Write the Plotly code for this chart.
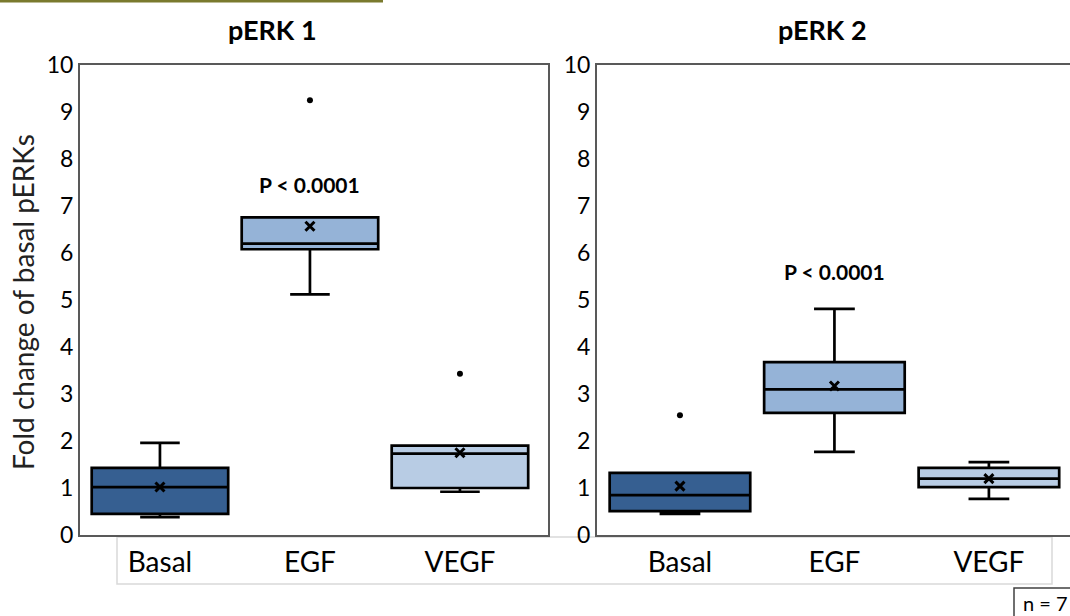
import plotly.graph_objects as go

W, H = 1070, 616

categories = ["Basal", "EGF", "VEGF"]
colors = ["#365f91", "#95b3d7", "#b8cce4"]

# pERK 1
p1_q1 = [0.45, 6.08, 1.00]
p1_median = [1.02, 6.20, 1.73]
p1_q3 = [1.43, 6.76, 1.90]
p1_low = [0.38, 5.12, 0.92]
p1_high = [1.96, 6.76, 1.90]
p1_mean = [1.02, 6.57, 1.75]
p1_out_x = ["EGF", "VEGF"]
p1_out_y = [9.25, 3.43]

# pERK 2
p2_q1 = [0.51, 2.60, 1.02]
p2_median = [0.85, 3.10, 1.20]
p2_q3 = [1.32, 3.68, 1.43]
p2_low = [0.45, 1.77, 0.77]
p2_high = [1.32, 4.81, 1.55]
p2_mean = [1.04, 3.17, 1.20]
p2_out_x = ["Basal"]
p2_out_y = [2.55]

titles = ["pERK 1", "pERK 2"]
pvals = ["P < 0.0001", "P < 0.0001"]
pval_y = [7.45, 5.6]
y_title = "Fold change of basal pERKs"
n_label = "n = 7"

FONT = "Lato"
fig = go.Figure()

panels = [
    (p1_q1, p1_median, p1_q3, p1_low, p1_high, p1_mean, p1_out_x, p1_out_y, "x", "y"),
    (p2_q1, p2_median, p2_q3, p2_low, p2_high, p2_mean, p2_out_x, p2_out_y, "x2", "y2"),
]

for (q1, med, q3, lo, hi, mean, ox, oy, xa, ya) in panels:
    for i, c in enumerate(categories):
        fig.add_trace(go.Box(
            x=[c], q1=[q1[i]], median=[med[i]], q3=[q3[i]],
            lowerfence=[lo[i]], upperfence=[hi[i]],
            width=0.91, whiskerwidth=0.29, boxpoints=False,
            fillcolor=colors[i], line=dict(color="black", width=2.7),
            xaxis=xa, yaxis=ya, showlegend=False, hoverinfo="skip"))
    fig.add_trace(go.Scatter(
        x=categories, y=mean, mode="markers", xaxis=xa, yaxis=ya,
        marker=dict(symbol="x-thin", size=9, line=dict(color="black", width=3)),
        showlegend=False, hoverinfo="skip"))
    fig.add_trace(go.Scatter(
        x=ox, y=oy, mode="markers", xaxis=xa, yaxis=ya,
        marker=dict(symbol="circle", size=6, color="black"),
        showlegend=False, hoverinfo="skip"))

ydom = [(616 - 535) / H, (616 - 65) / H]
axis_common = dict(showgrid=False, zeroline=False, linecolor="#595959", linewidth=2,
                   automargin=False)

fig.update_layout(
    template="none",
    width=W, height=H, margin=dict(l=0, r=0, t=0, b=0, pad=0),
    plot_bgcolor="white", paper_bgcolor="white",
    font=dict(family=FONT, color="black"),
    xaxis=dict(domain=[80 / W, 548 / W], range=[-0.533, 2.587], type="category",
               categoryorder="array", categoryarray=categories,
               showline=True, mirror=True, ticks="", tickfont=dict(size=28),
               ticklabelstandoff=1, **axis_common),
    yaxis=dict(domain=ydom, range=[0, 10], tickvals=list(range(11)),
               showline=True, mirror=True, ticks="", tickfont=dict(size=23),
               ticklabelstandoff=0, **axis_common),
    xaxis2=dict(domain=[597 / W, 1.0], range=[-0.537, 2.525], type="category",
                categoryorder="array", categoryarray=categories,
                anchor="y2", showline=True, mirror=True, ticks="",
                tickfont=dict(size=28), ticklabelstandoff=1, **axis_common),
    yaxis2=dict(domain=ydom, range=[0, 10], tickvals=list(range(11)),
                anchor="x2", showline=True, mirror=False, ticks="",
                tickfont=dict(size=23), ticklabelstandoff=0, **axis_common),
)

def pa(text, x, y, size, **kw):
    return dict(text=text, x=x / W, y=(616 - y) / H, xref="paper", yref="paper",
                xanchor=kw.pop("xanchor", "center"), yanchor="middle",
                showarrow=False, font=dict(size=size, color=kw.pop("color", "black")), **kw)

annotations = [
    pa(f"<b>{titles[0]}</b>", 272, 30, 27),
    pa(f"<b>{titles[1]}</b>", 822, 30, 27),
    dict(text=f"<b>{pvals[0]}</b>", x="EGF", y=pval_y[0], xref="x", yref="y",
         xanchor="center", yanchor="middle", showarrow=False, font=dict(size=21)),
    dict(text=f"<b>{pvals[1]}</b>", x="EGF", y=pval_y[1], xref="x2", yref="y2",
         xanchor="center", yanchor="middle", showarrow=False, font=dict(size=21)),
    pa(y_title, 23, 302, 28, color="#222222", textangle=-90),
    pa(n_label, 1021, 603, 20, xanchor="left"),
]
fig.update_layout(annotations=annotations)

shapes = [
    dict(type="rect", xref="paper", yref="paper", x0=117 / W, x1=1052 / W,
         y0=(616 - 584) / H, y1=(616 - 537) / H, line=dict(color="#d9d9d9", width=1.5),
         layer="below"),
    dict(type="rect", xref="paper", yref="paper", x0=1014 / W, x1=1.02,
         y0=-0.02, y1=(616 - 588) / H, line=dict(color="#404040", width=1.5)),
    dict(type="line", xref="paper", yref="paper", x0=0, x1=383 / W,
         y0=(616 - 1) / H, y1=(616 - 1) / H, line=dict(color="#7a7a2e", width=3)),
]
fig.update_layout(shapes=shapes)

fig.write_html("out.html")
